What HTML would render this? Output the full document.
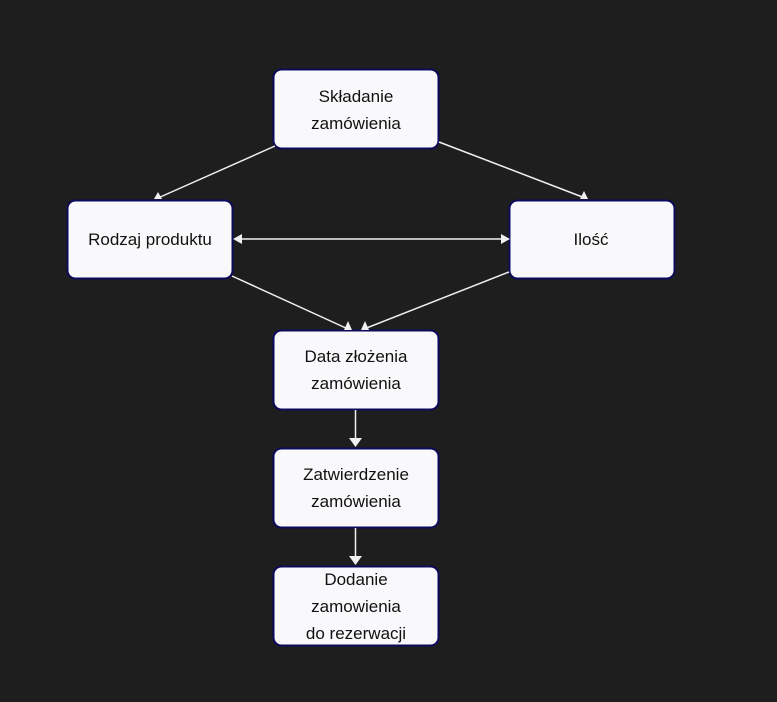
<!DOCTYPE html>
<html><head><meta charset="utf-8"><style>
html,body{margin:0;padding:0;background:#1e1e1e;}
svg{display:block;}
text{font-family:"Liberation Sans",Arial,sans-serif;font-size:17px;fill:#111;text-anchor:middle;}
</style></head><body>
<svg width="777" height="702" viewBox="0 0 777 702" xmlns="http://www.w3.org/2000/svg">
<rect width="777" height="702" fill="#1e1e1e"/>
<g fill="#f9f9fb" stroke="#0c0a5a" stroke-width="2">
<rect x="273.5" y="69.5" width="165" height="79" rx="8"/>
<rect x="67.5" y="200.5" width="165" height="78" rx="8"/>
<rect x="509.5" y="200.5" width="165" height="78" rx="8"/>
<rect x="273.5" y="330.5" width="165" height="79" rx="8"/>
<rect x="273.5" y="448.5" width="165" height="79" rx="8"/>
<rect x="273.5" y="566.5" width="165" height="79" rx="8"/>
</g>
<g stroke="#f0f0f0" stroke-width="1.5" fill="none">
<line x1="275" y1="146" x2="158" y2="198"/>
<line x1="439" y1="142" x2="585" y2="198"/>
<line x1="232" y1="276" x2="348" y2="329"/>
<line x1="509" y1="272" x2="364" y2="329"/>
<line x1="240" y1="239" x2="503" y2="239"/>
<line x1="355.5" y1="410" x2="355.5" y2="440"/>
<line x1="355.5" y1="528" x2="355.5" y2="558"/>
</g>
<g fill="#f0f0f0">
<polygon points="158,192 154,199 162,199"/>
<polygon points="584,191 580,199 588,199"/>
<polygon points="348,321 344,330 352,330"/>
<polygon points="365,321 361,330 369,330"/>
<polygon points="233,239 242,234 242,244"/>
<polygon points="510,239 501,234 501,244"/>
<polygon points="355.5,447 349,438 362,438"/>
<polygon points="355.5,565 349,556 362,556"/>
</g>
<text x="356" y="102">Składanie</text>
<text x="356" y="129">zamówienia</text>
<text x="150" y="245">Rodzaj produktu</text>
<text x="591" y="245">Ilość</text>
<text x="356" y="362">Data złożenia</text>
<text x="356" y="389">zamówienia</text>
<text x="356" y="480">Zatwierdzenie</text>
<text x="356" y="507">zamówienia</text>
<text x="356" y="585">Dodanie</text>
<text x="356" y="612">zamowienia</text>
<text x="356" y="639">do rezerwacji</text>
</svg>
</body></html>
